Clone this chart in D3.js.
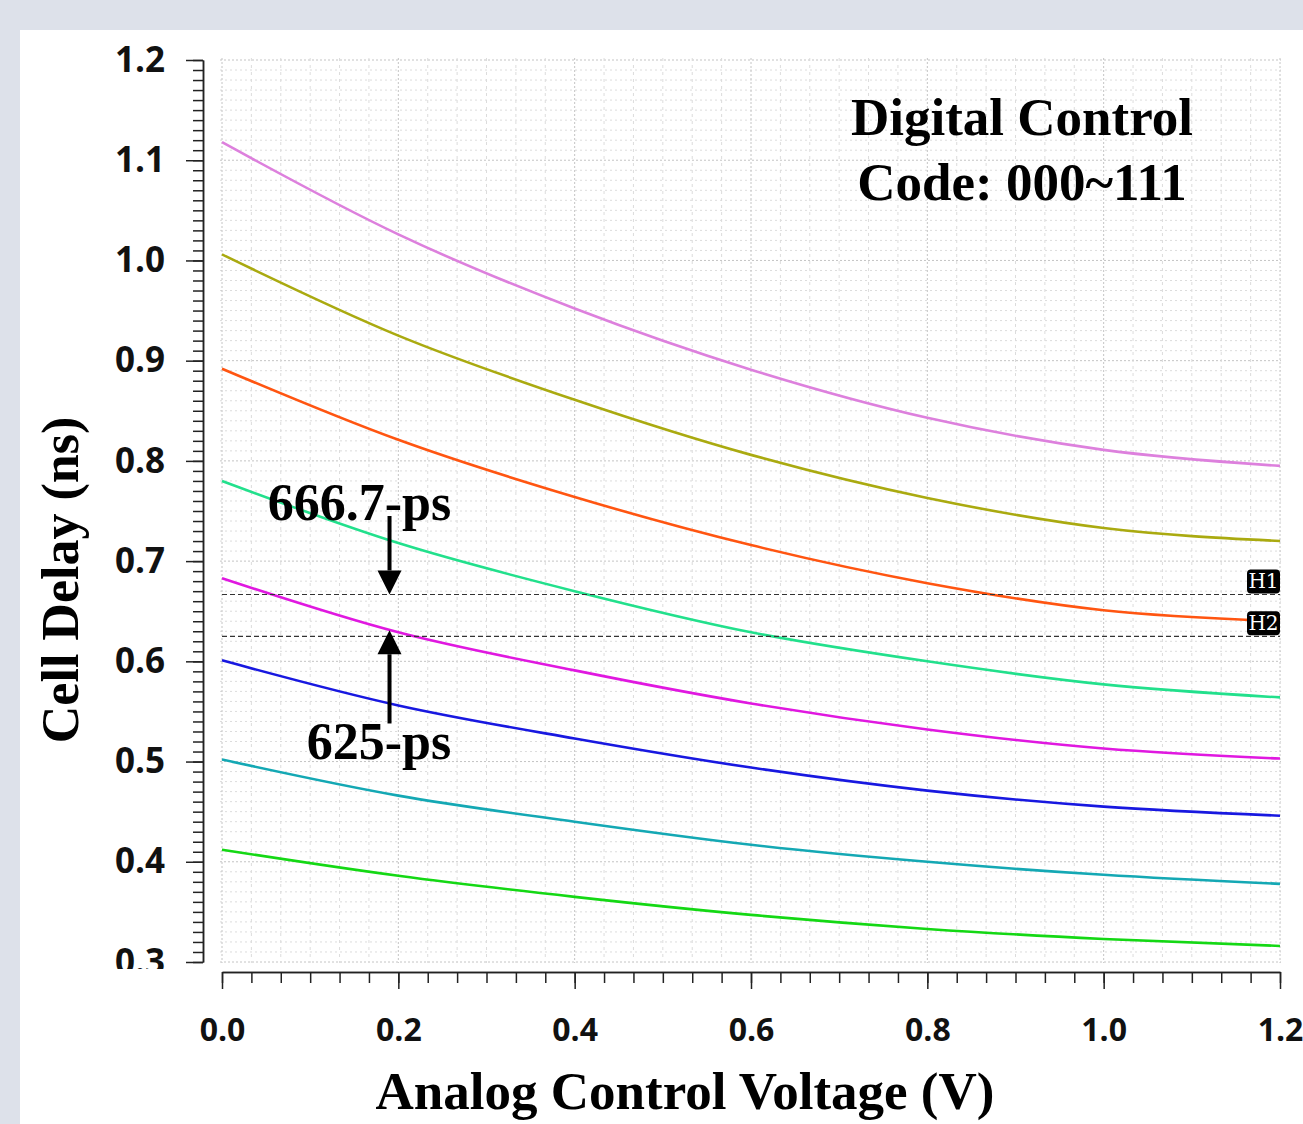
<!DOCTYPE html>
<html>
<head>
<meta charset="utf-8">
<script src="https://cdn.jsdelivr.net/npm/d3@7"></script>
<style>
  body { margin: 0; background: #dde1ea; }
  svg { display: block; }
</style>
</head>
<body>
<script>
// ---- data ----
var voltage = [0, 0.2, 0.4, 0.6, 0.8, 1.0, 1.2];
var codes = ["000", "001", "010", "011", "100", "101", "110", "111"];
var delay000 = [1.118, 1.026, 0.952, 0.891, 0.843, 0.811, 0.795];
var delay001 = [1.006, 0.925, 0.861, 0.806, 0.763, 0.733, 0.720];
var delay010 = [0.892, 0.821, 0.764, 0.716, 0.678, 0.651, 0.640];
var delay011 = [0.780, 0.718, 0.670, 0.629, 0.600, 0.577, 0.564];
var delay100 = [0.683, 0.629, 0.591, 0.558, 0.532, 0.513, 0.503];
var delay101 = [0.601, 0.556, 0.523, 0.494, 0.471, 0.455, 0.446];
var delay110 = [0.502, 0.466, 0.440, 0.417, 0.400, 0.387, 0.378];
var delay111 = [0.412, 0.386, 0.365, 0.347, 0.333, 0.323, 0.316];
var colors = ["#dd80dd", "#aaaa10", "#ff5511", "#22e08c", "#e018e0", "#1818e0", "#14a8b4", "#14d814"];

var xTicks = [0, 0.2, 0.4, 0.6, 0.8, 1.0, 1.2];
var yTicks = [0.3, 0.4, 0.5, 0.6, 0.7, 0.8, 0.9, 1.0, 1.1, 1.2];

// horizontal markers
var markers = [{ name: "H1", value: 0.6667 }, { name: "H2", value: 0.625 }];
// annotation arrows / texts (data space)
var arrows = [{ x: 0.19, from: 0.745, to: 0.6667 }, { x: 0.19, from: 0.538, to: 0.631 }];
var notes = [{ text: "666.7-ps", x: 0.26, y: 0.741 }, { text: "625-ps", x: 0.26, y: 0.503 }];

var series = [delay000, delay001, delay010, delay011, delay100, delay101, delay110, delay111]
  .map(function (vals, i) {
    return { code: codes[i], color: colors[i], points: vals.map(function (v, j) { return [voltage[j], v]; }) };
  });

// ---- layout ----
var W = 1303, H = 1124;
var plot = { left: 222, right: 1280, top: 60, bottom: 962 };

var x = d3.scaleLinear().domain([0, 1.2]).range([plot.left, plot.right]);
var y = d3.scaleLinear().domain([0.3, 1.2]).range([plot.bottom, plot.top]);

var svg = d3.select("body").append("svg").attr("width", W).attr("height", H);

svg.append("defs").append("clipPath").attr("id", "yclip")
  .append("rect").attr("x", -220).attr("y", 0).attr("width", 240).attr("height", 969);

// panel
svg.append("rect").attr("x", 20).attr("y", 30).attr("width", W - 20).attr("height", H - 30).attr("fill", "#fff");

// grid
var grid = svg.append("g").attr("class", "grid");
var xMinor = d3.range(0, 37).map(function (i) { return i / 30; });
var yMinor = d3.range(0, 91).map(function (i) { return 0.3 + i / 100; });

grid.selectAll("line.gy").data(yMinor).join("line")
  .attr("x1", plot.left - 2).attr("x2", plot.right + 1)
  .attr("y1", function (d) { return y(d); }).attr("y2", function (d) { return y(d); })
  .attr("stroke", function (d, i) { return i % 10 === 0 ? "#c4c4c4" : "#dcdcdc"; })
  .attr("stroke-dasharray", function (d, i) { return i % 10 === 0 ? "2,2" : "2,3"; })
  .attr("stroke-width", 1);

grid.selectAll("line.gx").data(xMinor).join("line")
  .attr("y1", plot.top - 2).attr("y2", plot.bottom + 1)
  .attr("x1", function (d) { return x(d); }).attr("x2", function (d) { return x(d); })
  .attr("stroke", function (d, i) { return i % 6 === 0 ? "#c4c4c4" : "#dcdcdc"; })
  .attr("stroke-dasharray", function (d, i) { return i % 6 === 0 ? "2,2" : "3,4"; })
  .attr("stroke-width", 1);

// curves
var line = d3.line()
  .x(function (d) { return x(d[0]); })
  .y(function (d) { return y(d[1]); })
  .curve(d3.curveMonotoneX);

svg.append("g").selectAll("path").data(series).join("path")
  .attr("d", function (d) { return line(d.points); })
  .attr("fill", "none")
  .attr("stroke", function (d) { return d.color; })
  .attr("stroke-width", 2.6);

// marker lines
var mk = svg.append("g").selectAll("g").data(markers).join("g");
mk.append("line")
  .attr("x1", plot.left).attr("x2", plot.right)
  .attr("y1", function (d) { return y(d.value); }).attr("y2", function (d) { return y(d.value); })
  .attr("stroke", "#333").attr("stroke-width", 1.2).attr("stroke-dasharray", "5,3");
mk.append("rect")
  .attr("x", plot.right - 33).attr("y", function (d) { return y(d.value) - 25; })
  .attr("width", 33).attr("height", 24).attr("rx", 4)
  .attr("fill", "#000");
mk.append("text")
  .attr("x", plot.right - 16.5).attr("y", function (d) { return y(d.value) - 6; })
  .attr("text-anchor", "middle")
  .attr("fill", "#fff")
  .style("font-family", "'DejaVu Serif', serif")
  .style("font-size", "20px")
  .text(function (d) { return d.name; });

// axes
var axisFont = "'Open Sans', 'Noto Sans', sans-serif";

var yAxisG = svg.append("g").attr("transform", "translate(203,0)").attr("clip-path", "url(#yclip)");
yAxisG.append("g").call(d3.axisLeft(y).tickValues(yMinor).tickSize(10).tickSizeOuter(0).tickFormat(""));
yAxisG.append("g").call(d3.axisLeft(y).tickValues(yTicks).tickSize(17).tickSizeOuter(0).tickPadding(21).tickFormat(d3.format(".1f")));
yAxisG.selectAll("path, line").attr("stroke", "#222").attr("stroke-width", 1.5);
yAxisG.selectAll("text").style("font-family", axisFont).style("font-weight", 700).style("font-size", "35px").attr("fill", "#111");

var xAxisG = svg.append("g").attr("transform", "translate(0,972)");
xAxisG.append("g").call(d3.axisBottom(x).tickValues(xMinor).tickSize(11).tickSizeOuter(0).tickFormat(""));
xAxisG.append("g").call(d3.axisBottom(x).tickValues(xTicks).tickSize(17).tickSizeOuter(0).tickPadding(29).tickFormat(d3.format(".1f")));
xAxisG.selectAll("path, line").attr("stroke", "#222").attr("stroke-width", 1.5);
xAxisG.selectAll("text").style("font-family", axisFont).style("font-weight", 700).style("font-size", "32px").attr("fill", "#111");

// axis titles
var serif = "'Liberation Serif', 'Times New Roman', serif";
svg.append("text")
  .attr("transform", "translate(78,580) rotate(-90)")
  .attr("text-anchor", "middle")
  .style("font-family", serif).style("font-weight", 700).style("font-size", "52px")
  .text("Cell Delay (ns)");
svg.append("text")
  .attr("x", 685).attr("y", 1109)
  .attr("text-anchor", "middle")
  .style("font-family", serif).style("font-weight", 700).style("font-size", "53px")
  .text("Analog Control Voltage (V)");

// title block
var title = svg.append("text")
  .attr("text-anchor", "middle")
  .style("font-family", serif).style("font-weight", 700).style("font-size", "53px");
title.append("tspan").attr("x", 1022).attr("y", 135).text("Digital Control");
title.append("tspan").attr("x", 1022).attr("y", 200).text("Code: 000~111");

// annotations
var ann = svg.append("g");
arrows.forEach(function (a) {
  var dir = a.to < a.from ? 1 : -1; // 1 = pointing down
  var tipY = y(a.to), baseY = tipY - dir * 24, cx = x(a.x);
  ann.append("line")
    .attr("x1", cx).attr("x2", cx)
    .attr("y1", y(a.from)).attr("y2", baseY)
    .attr("stroke", "#000").attr("stroke-width", 4);
  ann.append("path")
    .attr("d", "M" + (cx - 12) + "," + baseY + "L" + (cx + 12) + "," + baseY + "L" + cx + "," + tipY + "Z")
    .attr("fill", "#000");
});
ann.selectAll("text").data(notes).join("text")
  .attr("x", function (d) { return x(d.x); })
  .attr("y", function (d) { return y(d.y); })
  .attr("text-anchor", "end")
  .style("font-family", serif).style("font-weight", 700).style("font-size", "52px")
  .text(function (d) { return d.text; });
</script>
</body>
</html>
